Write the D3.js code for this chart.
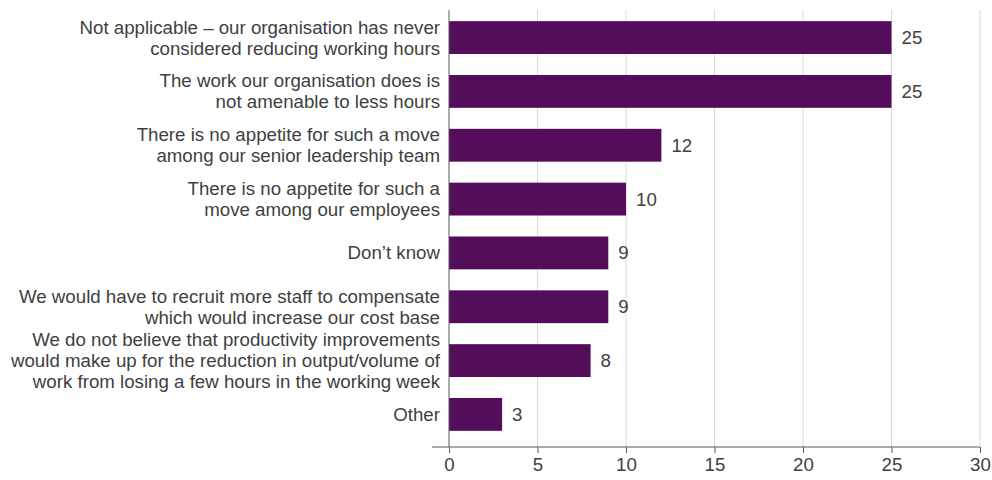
<!DOCTYPE html>
<html>
<head>
<meta charset="utf-8">
<script src="https://cdn.jsdelivr.net/npm/d3@7"></script>
<style>
  html, body { margin: 0; padding: 0; background: #fff; }
  svg { display: block; font-family: "Liberation Sans", Arial, sans-serif; }
</style>
</head>
<body>
<svg id="chart" width="992" height="480"></svg>
<script>
// Reasons for not reducing working hours (count of responses)
const categories = [
  ["Not applicable \u2013 our organisation has never", "considered reducing working hours"],
  ["The work our organisation does is", "not amenable to less hours"],
  ["There is no appetite for such a move", "among our senior leadership team"],
  ["There is no appetite for such a", "move among our employees"],
  ["Don\u2019t know"],
  ["We would have to recruit more staff to compensate", "which would increase our cost base"],
  ["We do not believe that productivity improvements", "would make up for the reduction in output/volume of", "work from losing a few hours in the working week"],
  ["Other"]
];
const values = [25, 25, 12, 10, 9, 9, 8, 3];
const xTicks = [0, 5, 10, 15, 20, 25, 30];

const svg = d3.select("#chart");
const margin = { top: 5, left: 449, right: 12, bottom: 33 };
const W = 992, H = 480;
const fontSize = 18.7;

const x = d3.scaleLinear().domain([0, 30]).range([margin.left, W - margin.right]);
const y = d3.scaleBand().domain(d3.range(categories.length))
  .range([margin.top, H - margin.bottom]).paddingInner(0.39).paddingOuter(0.3);

const textColor = "#404040";

// vertical gridlines
svg.append("g").selectAll("line").data(xTicks.filter(d => d > 0)).join("line")
  .attr("x1", d => x(d)).attr("x2", d => x(d))
  .attr("y1", 10).attr("y2", H - margin.bottom)
  .attr("stroke", "#d9d9d9").attr("stroke-width", 1);

// bars
svg.append("g").selectAll("rect").data(values).join("rect")
  .attr("x", x(0))
  .attr("y", (d, i) => y(i))
  .attr("width", d => x(d) - x(0))
  .attr("height", y.bandwidth())
  .attr("fill", "#540d5b");

// value labels
svg.append("g").selectAll("text").data(values).join("text")
  .attr("x", d => x(d) + 10)
  .attr("y", (d, i) => y(i) + y.bandwidth() / 2)
  .attr("dy", "0.35em")
  .attr("font-size", fontSize)
  .attr("fill", textColor)
  .text(d => d);

// category labels (multi-line)
const lineH = 21;
const cat = svg.append("g").selectAll("text").data(categories).join("text")
  .attr("text-anchor", "end")
  .attr("font-size", fontSize)
  .attr("fill", textColor)
  .attr("x", margin.left - 9)
  .attr("y", (d, i) => y(i) + y.bandwidth() / 2 - (d.length - 1) * lineH / 2);
cat.each(function(d) {
  d3.select(this).selectAll("tspan").data(d).join("tspan")
    .attr("x", margin.left - 9)
    .attr("dy", (t, j) => j === 0 ? "0.35em" : lineH)
    .text(t => t);
});

// x axis
const axis = d3.axisBottom(x).tickValues(xTicks).tickSize(6).tickSizeOuter(0).tickPadding(5);
const gx = svg.append("g").attr("transform", `translate(0,${H - margin.bottom})`).call(axis);
gx.select(".domain").remove();
gx.selectAll(".tick line").attr("stroke", "#595959");
gx.selectAll(".tick text").attr("font-size", fontSize).attr("fill", textColor)
  .attr("font-family", "Liberation Sans, Arial, sans-serif");
gx.append("line")
  .attr("x1", margin.left - 17).attr("x2", x(30))
  .attr("y1", 0).attr("y2", 0)
  .attr("stroke", "#595959");

// y axis line at zero
svg.append("line")
  .attr("x1", x(0)).attr("x2", x(0))
  .attr("y1", 10).attr("y2", H - margin.bottom)
  .attr("stroke", "#595959");
</script>
</body>
</html>
